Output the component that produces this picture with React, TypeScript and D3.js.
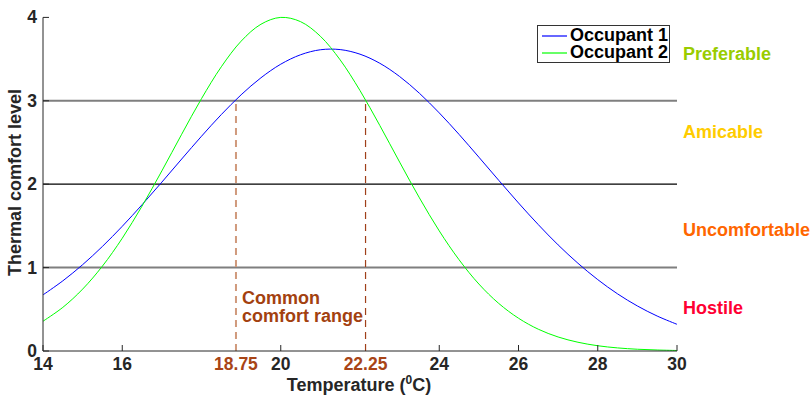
import React from "react";
import * as d3 from "d3";

const temps = [14, 14.5, 15, 15.5, 16, 16.5, 17, 17.5, 18, 18.5, 19, 19.5, 20, 20.5, 21, 21.5, 22, 22.5, 23, 23.5, 24, 24.5, 25, 25.5, 26, 26.5, 27, 27.5, 28, 28.5, 29, 29.5, 30];
const occupant1 = [0.673, 0.841, 1.035, 1.254, 1.495, 1.754, 2.025, 2.302, 2.575, 2.835, 3.072, 3.276, 3.439, 3.552, 3.612, 3.614, 3.559, 3.450, 3.291, 3.090, 2.855, 2.597, 2.324, 2.047, 1.775, 1.515, 1.272, 1.052, 0.856, 0.685, 0.540, 0.419, 0.320];
const occupant2 = [0.357, 0.523, 0.742, 1.018, 1.352, 1.738, 2.160, 2.599, 3.026, 3.408, 3.715, 3.918, 4.000, 3.949, 3.774, 3.490, 3.123, 2.704, 2.265, 1.836, 1.440, 1.094, 0.803, 0.571, 0.393, 0.261, 0.168, 0.105, 0.063, 0.037, 0.021, 0.012, 0.006];
const seriesNames = ["Occupant 1", "Occupant 2"];
const xTicks = [14, 16, 20, 24, 26, 28, 30];
const xTickLabels = ["14", "16", "20", "24", "26", "28", "30"];
const yTicks = [0, 1, 2, 3, 4];
const comfortBounds = [18.87, 22.14];
const comfortLabels = ["18.75", "22.25"];
const comfortLevel = 3;
const levelLines = [1, 2, 3];
const zoneNames = ["Preferable", "Amicable", "Uncomfortable", "Hostile"];

const FONT = "'Liberation Sans', Arial, Helvetica, sans-serif";

export default function App() {
  const x = d3.scaleLinear().domain([14, 30]).range([43, 677]);
  const y = d3.scaleLinear().domain([0, 4]).range([351, 17.4]);
  const line = d3
    .line<number>()
    .x((_, i) => x(temps[i]))
    .y((d) => y(d))
    .curve(d3.curveCatmullRom.alpha(0.5));

  const zoneColors = ["#99cc00", "#ffcc00", "#ff6600", "#ff0033"];
  const zoneBaselines = [60, 138, 235.5, 314];
  const seriesColors = ["#0000ff", "#00ff00"];

  return (
    <svg
      width={810}
      height={400}
      style={{ position: "absolute", left: 0, top: 0, background: "#fff" }}
      fontFamily={FONT}
      fontWeight="bold"
    >
      {levelLines.map((v) => (
        <line
          key={v}
          x1={x(14)}
          x2={x(30)}
          y1={y(v)}
          y2={y(v)}
          stroke={v === 2 ? "#000" : "#7f7f7f"}
          strokeWidth={v === 2 ? 1.2 : 2}
        />
      ))}
      <line
        x1={x(comfortBounds[0])}
        x2={x(comfortBounds[0])}
        y1={y(0)}
        y2={y(comfortLevel)}
        stroke="#d09a7c"
        strokeWidth={2}
        strokeDasharray="7,5"
      />
      <line
        x1={x(comfortBounds[1])}
        x2={x(comfortBounds[1])}
        y1={y(0)}
        y2={y(comfortLevel)}
        stroke="#a0401a"
        strokeWidth={1.2}
        strokeDasharray="7,5"
      />
      <path d={line(occupant1) || ""} fill="none" stroke={seriesColors[0]} strokeWidth={1} />
      <path d={line(occupant2) || ""} fill="none" stroke={seriesColors[1]} strokeWidth={1} />

      <line x1={x(14)} x2={x(30)} y1={y(0)} y2={y(0)} stroke="#262626" strokeWidth={1} />
      <line x1={x(14)} x2={x(14)} y1={y(0)} y2={y(4)} stroke="#262626" strokeWidth={1} />
      {xTicks.map((t, i) => (
        <g key={t}>
          <line x1={x(t)} x2={x(t)} y1={y(0)} y2={y(0) - 6} stroke="#262626" strokeWidth={1} />
          <text x={x(t)} y={369.5} textAnchor="middle" fontSize={17.5} fill="#262626">
            {xTickLabels[i]}
          </text>
        </g>
      ))}
      {comfortBounds.map((t, i) => (
        <text key={t} x={x(t)} y={369.5} textAnchor="middle" fontSize={17.5} fill="#a84416">
          {comfortLabels[i]}
        </text>
      ))}
      {yTicks.map((t) => (
        <g key={t}>
          <line x1={x(14)} x2={x(14) + 6} y1={y(t)} y2={y(t)} stroke="#262626" strokeWidth={1} />
          <text x={37} y={y(t) + 6} textAnchor="end" fontSize={17.5} fill="#262626">
            {t}
          </text>
        </g>
      ))}

      <text x={359} y={391} textAnchor="middle" fontSize={18} fill="#262626">
        Temperature (<tspan fontSize={12} dy={-7}>0</tspan>
        <tspan dy={7}>C)</tspan>
      </text>
      <text
        transform={`translate(21,182.5) rotate(-90)`}
        textAnchor="middle"
        fontSize={18}
        fill="#262626"
      >
        Thermal comfort level
      </text>

      <text x={242} y={304} fontSize={18} fill="#a3410f">
        Common
      </text>
      <text x={242} y={321.5} fontSize={18} fill="#a3410f">
        comfort range
      </text>

      {zoneNames.map((n, i) => (
        <text key={n} x={683} y={zoneBaselines[i]} fontSize={18} fill={zoneColors[i]}>
          {n}
        </text>
      ))}

      <rect x={537.5} y={25.5} width={132} height={37} fill="#fff" stroke="#333" strokeWidth={1} />
      {seriesNames.map((n, i) => (
        <g key={n}>
          <line
            x1={542}
            x2={567}
            y1={36 + i * 17}
            y2={36 + i * 17}
            stroke={seriesColors[i]}
            strokeWidth={1.2}
          />
          <text x={570} y={41 + i * 17.3} fontSize={18} fill="#000">
            {n}
          </text>
        </g>
      ))}
    </svg>
  );
}
